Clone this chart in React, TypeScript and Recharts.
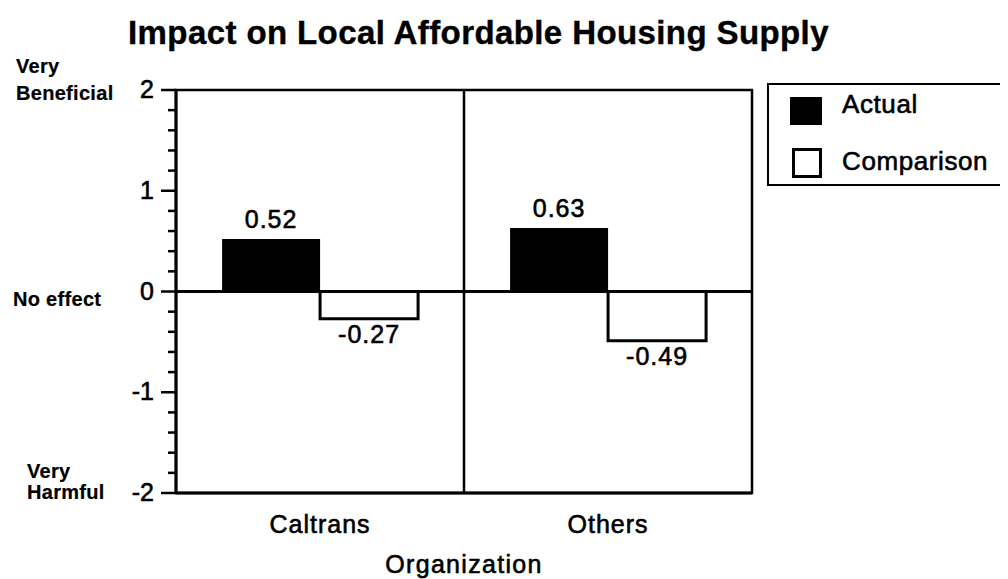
import React from "react"
import {
  BarChart,
  Bar,
  XAxis,
  YAxis,
  CartesianGrid,
  ReferenceLine,
  ReferenceArea,
  Legend,
  LabelList,
  Label,
} from "recharts"

const categories = ["Caltrans", "Others"]
const actualValues = [0.52, 0.63]
const comparisonValues = [-0.27, -0.49]
const yTicks = [
  -2, -1.8, -1.6, -1.4, -1.2, -1, -0.8, -0.6, -0.4, -0.2, 0, 0.2, 0.4, 0.6, 0.8, 1, 1.2, 1.4, 1.6, 1.8, 2,
]
const majorTicks = [-2, -1, 0, 1, 2]
const sideLabelTicks = [2, 0, -2]
const sideLabelLines = [["Very", "Beneficial"], ["No effect"], ["Very", "Harmful"]]

const data = categories.map((name, i) => ({
  name,
  actual: actualValues[i],
  comparison: comparisonValues[i],
}))

const FONT = '"Liberation Sans", Arial, Helvetica, sans-serif'
const txt = { fill: "#000", stroke: "#000", strokeWidth: 0.6, fontFamily: FONT }

// offsets of the words at the left of the axis, relative to the tick
const sideStyle = [
  { dx: -160, dys: [-17, 10] },
  { dx: -163, dys: [14] },
  { dx: -149, dys: [-15, 6] },
]

function YTick(props: any) {
  const { x, y, payload } = props
  const v = payload.value
  const major = majorTicks.includes(v)
  const side = sideLabelTicks.indexOf(v)
  return (
    <g>
      <line x1={x - (major ? 15 : 8)} x2={x} y1={y} y2={y} stroke="#000" strokeWidth={2.5} />
      {major && (
        <text x={x - 22} y={y + 8} textAnchor="end" fontSize={25} {...txt}>
          {v}
        </text>
      )}
      {side >= 0 &&
        sideLabelLines[side].map((line, j) => (
          <text
            key={j}
            x={x + sideStyle[side].dx}
            y={y + sideStyle[side].dys[j]}
            fontSize={20}
            fontWeight="bold"
            letterSpacing={0.3}
            {...txt}
            strokeWidth={0.2}
          >
            {line}
          </text>
        ))}
    </g>
  )
}

function XTick(props: any) {
  const { x, y, payload } = props
  return (
    <text x={x} y={y + 40} textAnchor="middle" fontSize={25} letterSpacing={1} {...txt}>
      {payload.value}
    </text>
  )
}

function ValueLabel(props: any) {
  const { x, y, width, height, value } = props
  const top = Math.min(y, y + height)
  const bottom = Math.max(y, y + height)
  const ty = value >= 0 ? top - 11 : bottom + 24
  return (
    <text x={x + width / 2} y={ty} textAnchor="middle" fontSize={25} letterSpacing={1} {...txt}>
      {Number(value).toFixed(2)}
    </text>
  )
}

function LegendBox(props: any) {
  const { payload = [] } = props
  return (
    <div
      style={{
        position: "relative",
        width: 239,
        height: 103,
        border: "2.5px solid #000",
        boxSizing: "border-box",
        background: "#fff",
        fontFamily: FONT,
      }}
    >
      {payload.map((entry: any, i: number) => {
        const filled = entry.dataKey === "actual"
        return (
          <React.Fragment key={entry.value}>
            <div
              style={{
                position: "absolute",
                left: filled ? 21 : 23,
                top: filled ? 12 : 63,
                width: filled ? 32 : 30,
                height: filled ? 28 : 30,
                boxSizing: "border-box",
                background: filled ? "#000" : "#fff",
                border: "3px solid #000",
              }}
            />
            <div
              style={{
                position: "absolute",
                left: 73,
                top: i === 0 ? 6 : 63,
                fontSize: 26,
                lineHeight: "26px",
                letterSpacing: 0.6,
                color: "#000",
                WebkitTextStroke: "0.6px #000",
                whiteSpace: "nowrap",
              }}
            >
              {entry.value}
            </div>
          </React.Fragment>
        )
      })}
    </div>
  )
}

export default function App() {
  return (
    <div style={{ position: "relative", width: 1000, height: 571, background: "#fff" }}>
      <BarChart
        width={1000}
        height={571}
        data={data}
        margin={{ top: 82, right: 256, bottom: 0, left: 0 }}
        barCategoryGap="16%"
        barGap={0}
      >
        <CartesianGrid
          horizontal={false}
          stroke="#000"
          strokeWidth={2.5}
          verticalCoordinatesGenerator={({ offset }: any) => [offset.left + offset.width / 2]}
        />
        <XAxis
          dataKey="name"
          height={86}
          tickLine={false}
          tickSize={0}
          tickMargin={0}
          axisLine={{ stroke: "#000", strokeWidth: 3 }}
          tick={<XTick />}
          label={
            <Label
              content={(p: any) => {
                const vb = p.viewBox
                return (
                  <text
                    x={vb.x + vb.width / 2}
                    y={vb.y + 80}
                    textAnchor="middle"
                    fontSize={25}
                    letterSpacing={1.3}
                    {...txt}
                  >
                    Organization
                  </text>
                )
              }}
            />
          }
        />
        <YAxis
          type="number"
          domain={[-2, 2]}
          ticks={yTicks}
          interval={0}
          width={168}
          tickLine={false}
          tickSize={0}
          tickMargin={0}
          axisLine={{ stroke: "#000", strokeWidth: 3 }}
          tick={<YTick />}
        />
        <Legend
          layout="vertical"
          align="center"
          verticalAlign="middle"
          wrapperStyle={{ left: 759, top: 75, width: 239, height: 103 }}
          content={<LegendBox />}
        />
        <Bar dataKey="actual" name="Actual" fill="#000" isAnimationActive={false}>
          <LabelList dataKey="actual" content={<ValueLabel />} />
        </Bar>
        <Bar
          dataKey="comparison"
          name="Comparison"
          fill="#fff"
          stroke="#000"
          strokeWidth={3}
          isAnimationActive={false}
        >
          <LabelList dataKey="comparison" content={<ValueLabel />} />
        </Bar>
        <ReferenceArea y1={-2} y2={2} fill="none" stroke="#000" strokeWidth={2.5} fillOpacity={0} />
        <ReferenceLine y={0} stroke="#000" strokeWidth={3} />
      </BarChart>
      <div
        style={{
          position: "absolute",
          left: 0,
          top: 8,
          width: 941,
          textAlign: "center",
          fontFamily: FONT,
          fontWeight: "bold",
          fontSize: 33,
          lineHeight: "33px",
          letterSpacing: 0.4,
          color: "#000",
          WebkitTextStroke: "0.4px #000",
          whiteSpace: "nowrap",
        }}
      >
        Impact on Local Affordable Housing Supply
      </div>
    </div>
  )
}
